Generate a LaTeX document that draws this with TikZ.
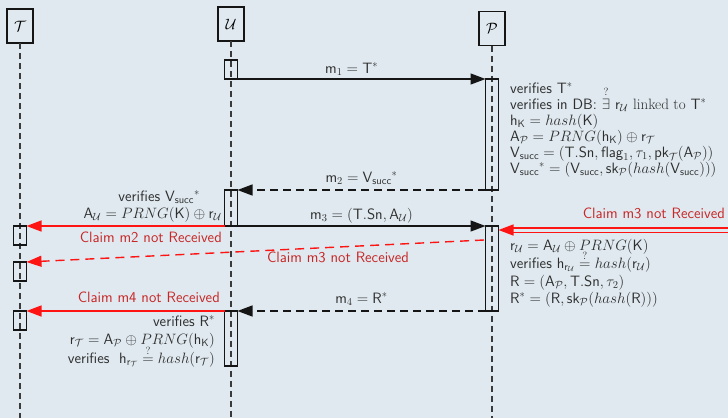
\RequirePackage{fix-cm}
\documentclass[tikz,border=0pt]{standalone}
\usepackage{amsmath}
\usepackage{amssymb}
\usepackage{fontspec}
\usepackage{tikz}
\usepackage{xcolor}
\usetikzlibrary{arrows.meta, positioning, calc}
\definecolor{PanelBg}{HTML}{DFE9EF}
\definecolor{LineInk}{HTML}{151515}
\definecolor{LifeInk}{HTML}{3A3A3A}
\definecolor{TextInk}{HTML}{2E2E2E}
\definecolor{ClaimRed}{HTML}{FF1414}
\definecolor{ClaimInk}{HTML}{C82626}
\newcommand{\sv}[1]{\mathsf{#1}}
\newcommand{\qeq}[1]{\mathrel{\smash[t]{\overset{?}{#1}}}}
\newcommand{\qex}{\mathord{\smash[t]{\overset{?}{\exists}}}}

\begin{document}
\begin{tikzpicture}[
    x=1pt, y=-1pt,
    font=\sffamily\fontsize{15}{17}\selectfont,
    head/.style={
      draw=LineInk, line width=1.3pt, inner sep=0pt, outer sep=0pt,
      minimum width=26pt, minimum height=34pt,
    },
    act/.style={
      draw=LineInk, line width=1.3pt, inner sep=0pt, outer sep=0pt,
      minimum width=13pt, anchor=north,
    },
    life/.style={draw=LifeInk, line width=1.2pt, dash pattern=on 6pt off 4pt},
    msg/.style={
      draw=LineInk, line width=1.3pt,
      -{Triangle[length=15pt, width=11pt]}
    },
    reply/.style={msg, dash pattern=on 8pt off 5pt},
    claim/.style={
      draw=ClaimRed, line width=1.4pt,
      -{Triangle[length=15pt, width=11pt]}
    },
    claimdbl/.style={claim, double=PanelBg, double distance=3pt},
    lbl/.style={text=TextInk, inner sep=0pt},
    claimlbl/.style={text=ClaimInk, inner sep=0pt},
  ]
    \fill[PanelBg] (0,0) rectangle (728,418);
    \useasboundingbox (0,0) rectangle (728,418);

    % parties and lifelines
    \node[head] (thead) at (20,26) {$\mathcal{T}$};
    \node[head] (uhead) at (231,24) {$\mathcal{U}$};
    \node[head] (phead) at (492,28.5) {$\mathcal{P}$};

    \coordinate (tfoot) at (20,418);
    \coordinate (ufoot) at (231,418);
    \coordinate (pfoot) at (492,418);
    \draw[life] (thead.south) -- (tfoot);
    \draw[life] (uhead.south) -- (ufoot);
    \draw[life] (phead.south) -- (pfoot);

    % activations
    \node[act, minimum height=19pt] (uact1) at (231,60) {};
    \node[act, minimum height=111pt] (pact1) at (492,79) {};
    \node[act, minimum height=36pt] (uact2) at (231,190) {};
    \node[act, minimum height=85pt] (pact2) at (492,226) {};
    \node[act, minimum height=55pt] (uact3) at (231,311) {};
    \node[act, minimum height=19pt] (tact1) at (20,226) {};
    \node[act, minimum height=19pt] (tact2) at (20,262) {};
    \node[act, minimum height=19pt] (tact3) at (20,311) {};

    % messages
    \draw[msg] (uact1.south east) -- node[lbl, pos=.46, anchor=base, yshift=6pt] (m1lbl)
      {$\sv{m}_1 = \sv{T}^*$} (pact1.north west);
    \draw[reply] (pact1.south west) -- node[lbl, midway, anchor=base, yshift=8pt] (m2lbl)
      {$\sv{m}_2 = \sv{V}_{\sv{succ}}{}^*$} (uact2.north east);
    \draw[msg] (uact2.south east) -- node[lbl, midway, anchor=base, yshift=7pt] (m3lbl)
      {$\sv{m}_3 = (\sv{T.Sn}, \sv{A}_{\mathcal{U}})$} (pact2.north west);
    \draw[reply] (pact2.south west) -- node[lbl, midway, anchor=base, yshift=8pt] (m4lbl)
      {$\sv{m}_4 = \sv{R}^*$} (uact3.north east);

    % claims
    \draw[claim] (uact2.south west) -- (tact1.north east);
    \node[claimlbl, anchor=base east] (c2lbl) at (222,242) {Claim m2 not Received};
    \coordinate (m3drop) at (484,240);
    \draw[claim, dash pattern=on 9pt off 6pt] (m3drop) -- (tact2.north east);
    \node[claimlbl, anchor=base] (c3lbl) at (338,262) {Claim m3 not Received};
    \draw[claim] (uact3.north west) -- (tact3.north east);
    \node[claimlbl, anchor=base east] (c4lbl) at (220,302) {Claim m4 not Received};
    \coordinate (rclaim) at (728,230);
    \draw[claimdbl] (rclaim) -- (pact2.east |- rclaim);
    \node[claimlbl, anchor=base east] (c3rlbl) at (725,218) {Claim m3 not Received};

    % computations at P
    \foreach \txt [count=\i] in {
        {verifies $\sv{T}^*$},
        {verifies in DB: $\qex\ \sv{r}_{\mathcal{U}}$ {\rmfamily linked to} $\sv{T}^*$},
        {$\sv{h}_{\sv{K}} = hash(\sv{K})$},
        {$\sv{A}_{\mathcal{P}} = PRNG(\sv{h}_{\sv{K}}) \oplus \sv{r}_{\mathcal{T}}$},
        {$\sv{V}_{\sv{succ}} = (\sv{T.Sn}, \sv{flag}_1, \tau_1, \sv{pk}_{\mathcal{T}}(\sv{A}_{\mathcal{P}}))$},
        {$\sv{V}_{\sv{succ}}{}^* = (\sv{V}_{\sv{succ}}, \sv{sk}_{\mathcal{P}}(hash(\sv{V}_{\sv{succ}})))$}}
      \node[lbl, anchor=base west] (pnote\i) at (510,77+16*\i) {\txt};

    \foreach \ypos/\txt [count=\i] in {
        250/{$\sv{r}_{\mathcal{U}} = \sv{A}_{\mathcal{U}} \oplus PRNG(\sv{K})$},
        268/{verifies $\sv{h}_{\sv{r}_{\mathcal{U}}} \qeq{=} hash(\sv{r}_{\mathcal{U}})$},
        286/{$\sv{R} = (\sv{A}_{\mathcal{P}}, \sv{T.Sn}, \tau_2)$},
        303/{$\sv{R}^* = (\sv{R}, \sv{sk}_{\mathcal{P}}(hash(\sv{R})))$}}
      \node[lbl, anchor=base west] (pres\i) at (510,\ypos) {\txt};

    % computations at U
    \node[lbl, anchor=base east] (uver1) at (200,201) {verifies $\sv{V}_{\sv{succ}}{}^*$};
    \node[lbl, anchor=base east] (uver2) at (222,218)
      {$\sv{A}_{\mathcal{U}} = PRNG(\sv{K}) \oplus \sv{r}_{\mathcal{U}}$};

    \foreach \ypos/\txt [count=\i] in {
        326/{verifies $\sv{R}^*$},
        344/{$\sv{r}_{\mathcal{T}} = \sv{A}_{\mathcal{P}} \oplus PRNG(\sv{h}_{\sv{K}})$},
        363/{verifies \ $\sv{h}_{\sv{r}_{\mathcal{T}}} \qeq{=} hash(\sv{r}_{\mathcal{T}})$}}
      \node[lbl, anchor=base east] (ures\i) at (215,\ypos) {\txt};
\end{tikzpicture}
\end{document}
